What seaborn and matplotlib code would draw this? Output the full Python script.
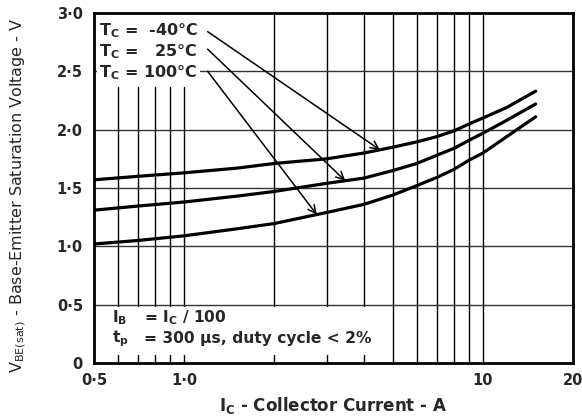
import numpy as np
import pandas as pd
import matplotlib
matplotlib.use("Agg")
import matplotlib.pyplot as plt
from matplotlib.patches import Rectangle
import seaborn as sns

# ---- data ----
ic_pts = [0.5, 0.7, 1.0, 1.5, 2.0, 3.0, 4.0, 5.0, 6.0, 7.0, 8.0, 9.0, 10.0, 12.0, 15.0]
v_m40 = [1.57, 1.60, 1.63, 1.67, 1.71, 1.75, 1.80, 1.85, 1.895, 1.94, 1.99, 2.05, 2.10, 2.19, 2.33]
v_25 = [1.31, 1.345, 1.38, 1.43, 1.47, 1.54, 1.585, 1.65, 1.71, 1.78, 1.84, 1.91, 1.97, 2.08, 2.22]
v_100 = [1.02, 1.05, 1.09, 1.15, 1.195, 1.29, 1.36, 1.44, 1.52, 1.59, 1.66, 1.74, 1.80, 1.94, 2.11]
series_names = ["-40", "25", "100"]
label_texts = [r"T$_{\mathbf{C}}$ =  -40°C", r"T$_{\mathbf{C}}$ =   25°C", r"T$_{\mathbf{C}}$ = 100°C"]
arrow_targets_x = [4.52, 3.46, 2.78]
x_ticks = [0.5, 1.0, 10, 20]
x_ticklabels = ["0·5", "1·0", "10", "20"]
y_ticks = [0, 0.5, 1.0, 1.5, 2.0, 2.5, 3.0]
y_ticklabels = ["0", "0·5", "1·0", "1·5", "2·0", "2·5", "3·0"]
x_grid = [0.6, 0.7, 0.8, 0.9, 1.0, 2, 3, 4, 5, 6, 7, 8, 9, 10]
y_grid = [0.5, 1.0, 1.5, 2.0, 2.5]

df = pd.concat([
    pd.DataFrame({"Ic": ic_pts, "V": v_m40, "T": "-40"}),
    pd.DataFrame({"Ic": ic_pts, "V": v_25, "T": "25"}),
    pd.DataFrame({"Ic": ic_pts, "V": v_100, "T": "100"}),
])

sns.set_style("white")
plt.rcParams["font.family"] = ["DejaVu Sans"]
plt.rcParams["mathtext.fontset"] = "dejavusans"

fig = plt.figure(figsize=(5.82, 4.16), dpi=100)
ax = fig.add_axes([94 / 582, 53 / 416, 479 / 582, 350 / 416])
ax.set_xscale("log")
ax.set_xlim(0.5, 20)
ax.set_ylim(0, 3.0)

# grid
for gx in x_grid:
    top = 2.37 / 3.0 if gx < 1.1 else 1.0
    ax.axvline(gx, ymin=0, ymax=top, color="black", lw=1.0, zorder=1)
for gy in y_grid:
    ax.axhline(gy, color="#333333", lw=1.0, zorder=2.5)

sns.lineplot(data=df, x="Ic", y="V", hue="T", palette=["black"] * 3,
             legend=False, lw=2.3, ax=ax, zorder=3, estimator=None, sort=True)

ax.set_xticks(x_ticks)
ax.set_xticklabels(x_ticklabels, fontsize=10.5, fontweight="bold")
ax.xaxis.set_minor_locator(matplotlib.ticker.NullLocator())
ax.set_yticks(y_ticks)
ax.set_yticklabels(y_ticklabels, fontsize=10.5, fontweight="bold")
ax.tick_params(axis="x", length=0, pad=7)
ax.tick_params(axis="y", length=0, pad=8)
for s in ax.spines.values():
    s.set_linewidth(2.0)
    s.set_color("black")

ax.set_xlabel(r"I$_{\mathbf{C}}$ - Collector Current - A", fontsize=12, fontweight="bold")
ax.xaxis.set_label_coords(0.5, -42 / 350)
ax.xaxis.label.set_va("center")
ax.set_ylabel(r"V$_{\mathrm{BE(sat)}}$ - Base-Emitter Saturation Voltage - V", fontsize=11.5)
ax.yaxis.set_label_coords(-76 / 479, 0.48)
ax.yaxis.label.set_va("center")

# temperature labels with arrows
curves = {"-40": v_m40, "25": v_25, "100": v_100}
label_y = [2.85, 2.67, 2.49]
arrow_y = [2.84, 2.69, 2.50]
for name, txt, ly, ay, tx in zip(series_names, label_texts, label_y, arrow_y, arrow_targets_x):
    ty = np.interp(np.log10(tx), np.log10(ic_pts), curves[name])
    ax.text(0.52, ly, txt, fontsize=11.5, fontweight="bold", va="center", ha="left",
            bbox=dict(facecolor="white", edgecolor="none", pad=1.5), zorder=4)
    ax.annotate("", xy=(tx, ty), xytext=(1.2, ay),
                arrowprops=dict(arrowstyle="->", color="black", lw=1.1,
                                shrinkA=0, shrinkB=0, mutation_scale=14), zorder=4)

# test-condition note
ax.add_patch(Rectangle((0.505, 0.07), 4.2, 0.41, facecolor="white", edgecolor="none", zorder=2))
ax.text(0.574, 0.39, r"I$_{\mathbf{B}}$", fontsize=11.2, fontweight="bold", va="center", ha="left", zorder=4)
ax.text(0.735, 0.39, r"= I$_{\mathbf{C}}$ / 100", fontsize=11.2, fontweight="bold", va="center", ha="left", zorder=4)
ax.text(0.574, 0.21, r"t$_{\mathbf{p}}$", fontsize=11.2, fontweight="bold", va="center", ha="left", zorder=4)
ax.text(0.735, 0.21, "= 300 µs, duty cycle < 2%", fontsize=11.2, fontweight="bold", va="center", ha="left", zorder=4)

fig.savefig("out.png", dpi=100)
